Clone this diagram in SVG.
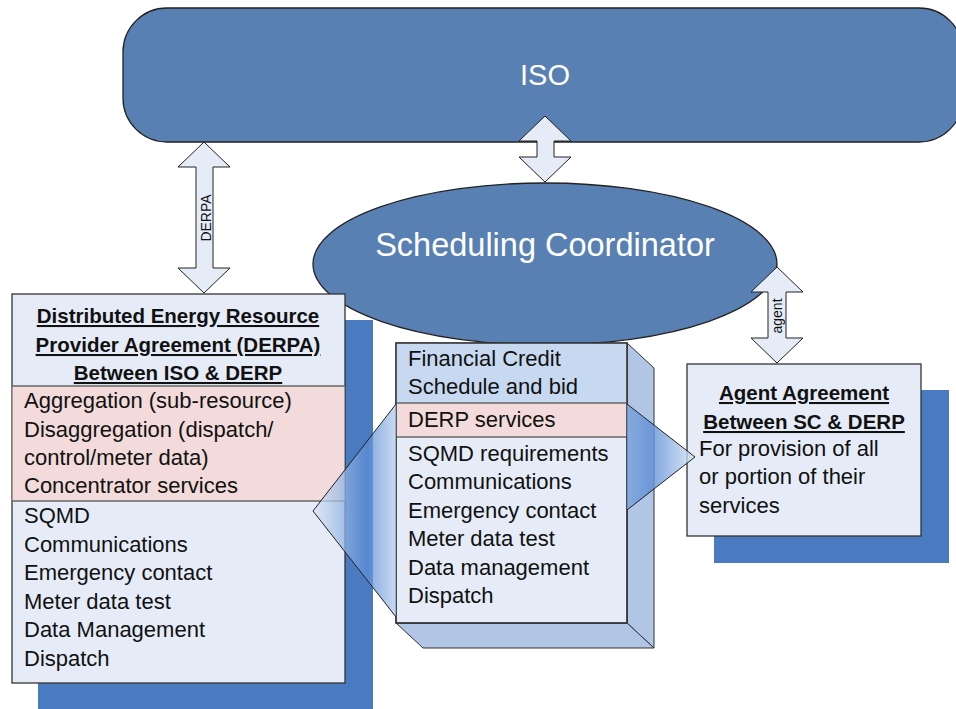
<svg xmlns="http://www.w3.org/2000/svg" width="956" height="709" viewBox="0 0 956 709">
<defs>
<style>
.blue{fill:#5980b2;stroke:#222;stroke-width:1.3}
.arrow{fill:#e6ecf7;stroke:#222;stroke-width:1}
.box{fill:#e6ecf7;stroke:#333;stroke-width:1.3}
.pink{fill:#f2dbda}
.sep{stroke:#666;stroke-width:1.3}
.shadow{fill:#4a7bc1}
.t{font-family:"Liberation Sans",Arial,sans-serif;font-size:22px;fill:#111}
.h{font-family:"Liberation Sans",Arial,sans-serif;font-size:20.5px;font-weight:bold;fill:#111;text-decoration:underline;text-anchor:middle}
.w{font-family:"Liberation Sans",Arial,sans-serif;fill:#fff;text-anchor:middle}
.s{font-family:"Liberation Sans",Arial,sans-serif;font-size:14px;fill:#111;text-anchor:middle}
.edge{fill:none;stroke:#222;stroke-width:1}
</style>
<linearGradient id="gl" gradientUnits="userSpaceOnUse" x1="313" y1="0" x2="396" y2="0">
<stop offset="0" stop-color="#dce7f6"/>
<stop offset="0.65" stop-color="#5b8cd3"/>
<stop offset="1" stop-color="#b8ceee"/>
</linearGradient>
<linearGradient id="gr" gradientUnits="userSpaceOnUse" x1="627" y1="0" x2="695" y2="0">
<stop offset="0" stop-color="#7aa3dc"/>
<stop offset="0.35" stop-color="#5d8dd4"/>
<stop offset="1" stop-color="#d6e3f5"/>
</linearGradient>
</defs>

<g id="iso">
<rect class="blue" x="123" y="8" width="840" height="134" rx="44" ry="44"/>
<text class="w" x="545" y="85" font-size="29">ISO</text>
</g>

<g id="sc">
<ellipse class="blue" cx="545" cy="264" rx="232" ry="81"/>
<text class="w" x="545" y="256" font-size="32.5">Scheduling Coordinator</text>
</g>

<g id="connectors">
<path class="arrow" d="M545,116 L571,141 L554,141 L554,157 L571,157 L545,182 L519,157 L537,157 L537,141 L519,141 Z"/>
<path class="arrow" d="M204,142 L230,167 L213,167 L213,268 L230,268 L204,293 L178,268 L196,268 L196,167 L178,167 Z"/>
<text class="s" transform="translate(210.5,218) rotate(-90)">DERPA</text>
<path class="arrow" d="M777,267 L803,292 L786,292 L786,338 L803,338 L777,363 L751,338 L768,338 L768,292 L751,292 Z"/>
<text class="s" transform="translate(782,316) rotate(-90)">agent</text>
</g>

<g id="derpa">
<rect class="shadow" x="38" y="320" width="335" height="395"/>
<rect class="box" x="12" y="294" width="333" height="389"/>
<rect class="pink" x="12.6" y="386" width="331.8" height="115"/>
<line class="sep" x1="12" y1="386" x2="345" y2="386"/>
<line class="sep" x1="12" y1="501" x2="345" y2="501"/>
<text class="h" x="178" y="323">Distributed Energy Resource</text>
<text class="h" x="178" y="352">Provider Agreement (DERPA)</text>
<text class="h" x="178" y="380">Between ISO &amp; DERP</text>
<text class="t" x="24" y="408">Aggregation (sub-resource)</text>
<text class="t" x="24" y="437">Disaggregation (dispatch/</text>
<text class="t" x="24" y="465">control/meter data)</text>
<text class="t" x="24" y="493">Concentrator services</text>
<text class="t" x="24" y="523">SQMD</text>
<text class="t" x="24" y="552">Communications</text>
<text class="t" x="24" y="580">Emergency contact</text>
<text class="t" x="24" y="609">Meter data test</text>
<text class="t" x="24" y="637">Data Management</text>
<text class="t" x="24" y="666">Dispatch</text>
</g>

<g id="sc-box">
<polygon points="627,343 654,368 654,648 627,623" fill="#b1c5e5" stroke="#333" stroke-width="1"/>
<polygon points="396,623 627,623 654,648 423,648" fill="#b1c5e5" stroke="#333" stroke-width="1"/>
<rect x="396" y="343" width="231" height="280" fill="#e6ecf7" stroke="#333" stroke-width="1.3"/>
<rect x="396.6" y="343.6" width="229.8" height="59.4" fill="#c6d9f0"/>
<rect x="396.6" y="403" width="229.8" height="34" class="pink"/>
<line class="sep" x1="396" y1="403" x2="627" y2="403"/>
<line class="sep" x1="396" y1="437" x2="627" y2="437"/>
<rect x="396" y="343" width="231" height="280" fill="none" stroke="#333" stroke-width="1.3"/>
<text class="t" x="408" y="366">Financial Credit</text>
<text class="t" x="408" y="394">Schedule and bid</text>
<text class="t" x="408" y="427">DERP services</text>
<text class="t" x="408" y="461">SQMD requirements</text>
<text class="t" x="408" y="489">Communications</text>
<text class="t" x="408" y="518">Emergency contact</text>
<text class="t" x="408" y="546">Meter data test</text>
<text class="t" x="408" y="575">Data management</text>
<text class="t" x="408" y="603">Dispatch</text>
</g>

<g id="agent">
<rect class="shadow" x="714" y="390" width="235" height="173"/>
<rect class="box" x="687" y="364" width="234" height="172"/>
<text class="h" x="804" y="400">Agent Agreement</text>
<text class="h" x="804" y="429">Between SC &amp; DERP</text>
<text class="t" x="699" y="456">For provision of all</text>
<text class="t" x="699" y="484">or portion of their</text>
<text class="t" x="699" y="513">services</text>
</g>

<g id="callouts">
<polygon points="396,404 313,511 396,617" fill="url(#gl)" fill-opacity="0.75"/>
<polyline class="edge" points="396,404 313,511 396,617"/>
<polygon points="627,404 695,457 627,510" fill="url(#gr)" fill-opacity="0.8"/>
<polyline class="edge" points="627,404 695,457 627,510"/>
</g>
</svg>
